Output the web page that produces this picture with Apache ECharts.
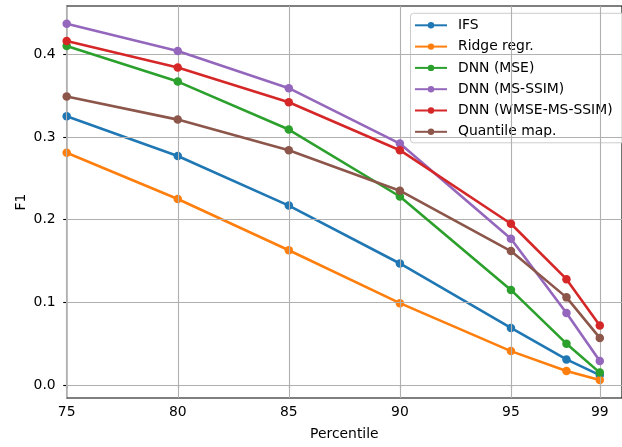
<!DOCTYPE html>
<html>
<head>
	<meta http-equiv="Content-Type" content="text/html;charset=utf-8">
	<title>F1 vs Percentile</title>
	<style>
	html, body { margin: 0; padding: 0; background: #fff; }
	#chart { width: 622px; height: 447px; }
	</style>
</head>
<body>
<div id="chart"></div>
<script src="https://cdn.jsdelivr.net/npm/echarts@6/dist/echarts.min.js"></script>
<script>
	// x 轴数据
	var percentiles = [75, 80, 85, 90, 95, 97.5, 99];
	var xTicks = [75, 80, 85, 90, 95, 99];
	var yTicks = [0.0, 0.1, 0.2, 0.3, 0.4];

	var seriesNames = [
		'IFS',
		'Ridge regr.',
		'DNN (MSE)',
		'DNN (MS-SSIM)',
		'DNN (WMSE-MS-SSIM)',
		'Quantile map.'
	];
	var ifs       = [0.325, 0.277, 0.217, 0.147, 0.069, 0.031, 0.012];
	var ridge     = [0.281, 0.225, 0.163, 0.099, 0.041, 0.017, 0.006];
	var dnnMse    = [0.410, 0.367, 0.309, 0.228, 0.115, 0.050, 0.015];
	var dnnMsssim = [0.437, 0.404, 0.359, 0.292, 0.177, 0.087, 0.029];
	var dnnWmse   = [0.416, 0.384, 0.342, 0.284, 0.195, 0.128, 0.072];
	var quantile  = [0.349, 0.321, 0.284, 0.235, 0.162, 0.106, 0.057];

	var colors = ['#1f77b4', '#ff7f0e', '#2ca02c', '#9467bd', '#d62728', '#8c564b'];
	var values = [ifs, ridge, dnnMse, dnnMsssim, dnnWmse, quantile];
	var font = 'DejaVu Sans';

	var series = [];
	// 网格线 (放在最下层)
	series.push({
		type: 'line',
		data: [],
		z: 1,
		silent: true,
		markLine: {
			silent: true,
			symbol: ['none', 'none'],
			label: { show: false },
			lineStyle: { color: '#b0b0b0', width: 1.1, type: 'solid' },
			data: xTicks.map(function(v){ return { xAxis: v }; })
				.concat(yTicks.map(function(v){ return { yAxis: v }; }))
		}
	});
	for (var i = 0; i < values.length; i++) {
		series.push({
			name: seriesNames[i],
			type: 'line',
			z: 3 + i,
			data: percentiles.map(function(p, k){ return [p, values[i][k]]; }),
			symbol: 'circle',
			symbolSize: 8.5,
			showAllSymbol: true,
			color: colors[i],
			lineStyle: { width: 2.6, color: colors[i] },
			itemStyle: { color: colors[i] }
		});
	}

	var option = {
		animation: false,
		backgroundColor: '#fff',
		textStyle: { fontFamily: font },
		grid: {
			left: 66.7,
			top: 6,
			width: 563.7,
			height: 392,
			show: true,
			borderColor: '#000',
			borderWidth: 1.1,
			backgroundColor: 'transparent'
		},
		legend: {
			left: 410.5,
			top: 13.3,
			orient: 'vertical',
			padding: [5, 12, 4, 3.5],
			itemGap: 7.3,
			itemWidth: 32,
			itemHeight: 8,
			backgroundColor: 'rgba(255,255,255,0.8)',
			borderColor: '#cccccc',
			borderWidth: 1,
			borderRadius: 3,
			textStyle: { fontFamily: font, fontSize: 13.9, color: '#000', padding: [0, 0, 0, 6] },
			data: seriesNames
		},
		xAxis: {
			type: 'value',
			min: 75,
			max: 100,
			name: 'Percentile',
			nameLocation: 'middle',
			nameGap: 29,
			nameTextStyle: { fontFamily: font, fontSize: 13.9, color: '#000' },
			axisLine: { show: false },
			axisTick: { show: true, length: 3.5, lineStyle: { color: '#000', width: 1.1 }, customValues: xTicks },
			axisLabel: { fontFamily: font, fontSize: 13.9, color: '#000', margin: 7, customValues: xTicks,
				formatter: function(v){ return String(v); } },
			splitLine: { show: false }
		},
		yAxis: {
			type: 'value',
			min: -0.0157,
			max: 0.4584,
			name: 'F1',
			nameLocation: 'middle',
			nameRotate: 90,
			nameGap: 38,
			nameMoveOverlap: false,
			nameTextStyle: { fontFamily: font, fontSize: 13.9, color: '#000' },
			axisLine: { show: false },
			axisTick: { show: true, length: 3.5, lineStyle: { color: '#000', width: 1.1 }, customValues: yTicks },
			axisLabel: { fontFamily: font, fontSize: 13.9, color: '#000', margin: 11, customValues: yTicks,
				formatter: function(v){ return v.toFixed(1); } },
			splitLine: { show: false }
		},
		series: series
	};

	var myChart = echarts.init(document.getElementById('chart'));
	myChart.setOption(option);
</script>
</body>
</html>
